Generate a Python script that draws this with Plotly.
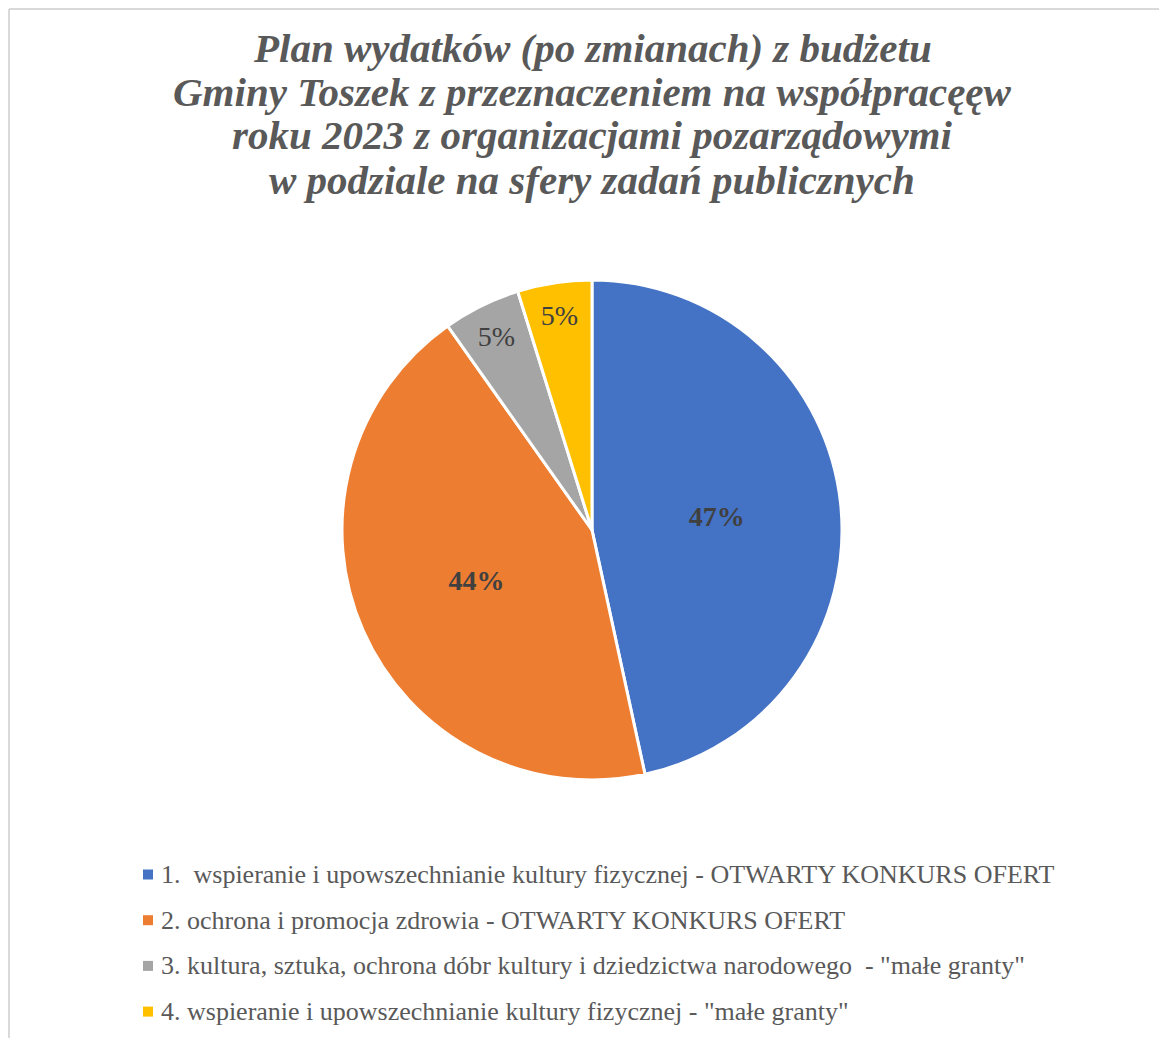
import plotly.graph_objects as go

W, H = 1167, 1038
OFF = 8  # page body margin in the browser shifts the figure by 8 px

labels = [
    "1.\u00a0 wspieranie i upowszechnianie kultury fizycznej - OTWARTY KONKURS OFERT",
    "2. ochrona i promocja zdrowia - OTWARTY KONKURS OFERT",
    "3. kultura, sztuka, ochrona dóbr kultury i dziedzictwa narodowego\u00a0 - \"małe granty\"",
    "4. wspieranie i upowszechnianie kultury fizycznej - \"małe granty\"",
]
values = [46.6, 43.6, 5.0, 4.8]
colors = ["#4472C4", "#ED7D31", "#A5A5A5", "#FFC000"]
label_templates = ["<b>%{percent:.0%}</b>", "<b>%{percent:.0%}</b>", "%{percent:.0%}", "%{percent:.0%}"]

title_lines = [
    "Plan wydatków (po zmianach) z budżetu",
    "Gminy Toszek z przeznaczeniem na współpracęęw",
    "roku 2023 z organizacjami pozarządowymi",
    "w podziale na sfery zadań publicznych",
]

SERIF = "Liberation Serif"


def px(xp):
    return (xp - OFF) / W


def py(yp):
    return 1 - (yp - OFF) / H


fig = go.Figure()
fig.add_trace(go.Pie(
    labels=labels,
    values=values,
    sort=False,
    direction="clockwise",
    rotation=0,
    marker=dict(colors=colors, line=dict(color="white", width=3)),
    texttemplate=label_templates,
    textposition="inside",
    insidetextorientation="horizontal",
    textfont=dict(family=SERIF, size=28, color="#404040"),
    domain=dict(x=[px(342), px(842)], y=[py(780), py(280)]),
    showlegend=False,
    hoverinfo="label+percent",
))

shapes = []
annotations = []
# outer frame (left and top edges visible)
shapes.append(dict(type="line", xref="paper", yref="paper",
                   x0=1 / W, x1=1.02, y0=1 - 1 / H, y1=1 - 1 / H,
                   line=dict(color="#D9D9D9", width=2)))
shapes.append(dict(type="line", xref="paper", yref="paper",
                   x0=1 / W, x1=1 / W, y0=-0.02, y1=1 - 1 / H,
                   line=dict(color="#D9D9D9", width=2)))

# title, line by line (reference line spacing is tighter than Plotly's default)
title_base = [61, 104.5, 148.5, 192.5]
for line, yb in zip(title_lines, title_base):
    annotations.append(dict(text="<b><i>" + line + "</i></b>", xref="paper", yref="paper",
                            x=px(592), y=py(yb - 13), xanchor="center", yanchor="middle",
                            showarrow=False,
                            font=dict(family=SERIF, size=41, color="#595959")))

# legend
row0, step = 874.5, 45.7
for i, (lab, col) in enumerate(zip(labels, colors)):
    yc = row0 + i * step
    shapes.append(dict(type="rect", xref="paper", yref="paper",
                       x0=px(143), x1=px(153), y0=py(yc + 5), y1=py(yc - 5),
                       fillcolor=col, line=dict(width=0)))
    annotations.append(dict(text=lab, xref="paper", yref="paper",
                            x=px(159), y=py(yc), xanchor="left", yanchor="middle",
                            showarrow=False,
                            font=dict(family=SERIF, size=26, color="#595959")))

fig.update_layout(
    width=W, height=H,
    margin=dict(l=0, r=0, t=0, b=0),
    paper_bgcolor="white",
    plot_bgcolor="white",
    shapes=shapes,
    annotations=annotations,
)

fig.write_html("out.html")
